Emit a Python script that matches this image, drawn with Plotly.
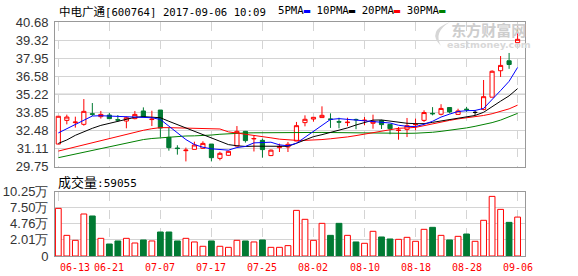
import plotly.graph_objects as go

# ---------------- data ----------------
STOCK = "中电广通"
CODE = "600764"
STAMP = "2017-09-06 10:09"
LAST_VOL = 59055

DATE_LABELS = ["06-13", "06-21", "07-07", "07-17", "07-25", "08-02", "08-10", "08-18", "08-28", "09-06"]
DATE_IDX = [0, 6, 12, 18, 24, 30, 36, 42, 48, 54]

OPEN = [31.46, 33.25, 33.08, 32.95, 33.75, 33.53, 33.65, 33.30, 33.20, 33.38,
        33.96, 33.31, 34.03, 31.97, 31.16, 30.96, 31.06, 31.14, 31.46, 30.38,
        30.61, 31.31, 32.42, 31.85, 31.74, 30.59, 31.19, 31.24, 31.69, 33.08,
        33.35, 33.46, 33.35, 33.15, 33.08, 33.32, 33.24, 33.03, 33.23, 32.95,
        32.49, 32.57, 32.92, 33.25, 33.78, 33.71, 34.22, 33.70, 34.10, 33.85,
        34.08, 35.00, 37.00, 37.75, 39.12]
HIGH = [33.58, 33.68, 33.53, 34.86, 34.56, 33.96, 33.81, 33.65, 33.53, 33.96,
        34.23, 33.98, 34.03, 32.72, 31.37, 31.19, 31.64, 31.67, 31.46, 30.88,
        30.95, 32.82, 32.45, 32.10, 31.87, 31.05, 31.49, 31.62, 33.13, 33.63,
        33.48, 34.31, 33.78, 33.45, 33.45, 33.38, 33.50, 33.68, 33.30, 32.95,
        32.75, 33.43, 33.38, 34.01, 34.25, 34.47, 34.24, 34.13, 34.27, 34.03,
        36.30, 37.03, 38.11, 38.34, 40.33]
LOW = [31.44, 32.95, 32.70, 32.85, 33.58, 33.38, 33.38, 33.15, 32.65, 33.33,
       33.53, 32.82, 31.97, 30.96, 30.66, 30.15, 31.06, 31.09, 30.15, 30.23,
       30.58, 31.31, 31.57, 30.90, 30.43, 30.55, 30.86, 30.86, 31.69, 32.80,
       33.15, 33.46, 32.68, 32.65, 32.81, 32.58, 32.88, 32.62, 32.60, 32.20,
       31.79, 31.99, 32.50, 33.13, 33.63, 33.63, 33.78, 33.70, 33.89, 33.66,
       34.01, 35.00, 36.53, 37.14, 39.12]
CLOSE = [33.56, 33.50, 33.12, 33.93, 33.71, 33.70, 33.38, 33.27, 33.45, 33.70,
         33.53, 33.34, 32.67, 31.19, 31.12, 31.00, 31.39, 31.51, 30.43, 30.76,
         30.91, 32.42, 31.72, 31.88, 31.04, 31.00, 31.29, 31.44, 32.85, 33.33,
         33.48, 33.63, 33.33, 33.12, 33.11, 33.30, 33.26, 33.18, 32.93, 32.62,
         32.51, 32.85, 32.94, 33.84, 33.75, 34.15, 33.89, 33.96, 34.06, 33.85,
         35.04, 36.96, 37.40, 37.47, 39.37]
# volume in 万手
VOLUME = [7.40, 2.79, 1.94, 6.44, 6.10, 2.28, 1.31, 1.83, 2.28, 1.48,
          2.00, 1.83, 3.36, 3.36, 1.83, 2.28, 1.66, 0.92, 1.83, 0.92,
          0.74, 1.94, 1.83, 1.66, 2.00, 0.74, 0.74, 1.03, 7.06, 5.53,
          1.94, 4.84, 2.79, 4.84, 2.79, 1.66, 1.43, 3.48, 2.51, 2.17,
          2.11, 2.45, 1.77, 3.82, 4.16, 2.79, 2.00, 2.62, 3.02, 1.77,
          5.36, 9.45, 7.23, 5.01, 5.91]
MA5 = [32.30, 32.62, 32.95, 33.28, 33.58, 33.60, 33.58, 33.58, 33.52, 33.50,
       33.48, 33.45, 33.32, 32.80, 32.30, 31.80, 31.42, 31.22, 31.10, 31.03,
       31.00, 31.20, 31.28, 31.55, 31.60, 31.60, 31.40, 31.33, 31.52, 31.98,
       32.45, 32.92, 33.32, 33.38, 33.33, 33.30, 33.24, 33.20, 33.15, 33.05,
       32.88, 32.80, 32.78, 32.95, 33.18, 33.50, 33.72, 33.92, 33.98, 34.00,
       34.15, 34.80, 35.50, 36.20, 37.25]
MA10 = [31.51, 31.77, 32.12, 32.40, 32.65, 32.87, 33.03, 33.20, 33.35, 33.48,
        33.53, 33.51, 33.45, 33.18, 32.92, 32.66, 32.43, 32.18, 31.93, 31.66,
        31.42, 31.33, 31.28, 31.30, 31.30, 31.30, 31.29, 31.29, 31.52, 31.78,
        32.02, 32.17, 32.35, 32.48, 32.68, 32.90, 33.10, 33.27, 33.28, 33.20,
        33.10, 33.03, 33.00, 33.00, 33.10, 33.20, 33.30, 33.40, 33.50, 33.62,
        33.86, 34.25, 34.70, 35.10, 35.65]
MA20 = [30.93, 31.09, 31.25, 31.41, 31.57, 31.73, 31.89, 32.05, 32.20, 32.35,
        32.50, 32.62, 32.70, 32.70, 32.68, 32.68, 32.68, 32.67, 32.64, 32.60,
        32.38, 32.30, 32.22, 32.13, 32.03, 31.93, 31.83, 31.76, 31.74, 31.74,
        31.76, 31.80, 31.86, 31.92, 32.00, 32.10, 32.20, 32.32, 32.45, 32.55,
        32.65, 32.68, 32.72, 32.85, 33.00, 33.12, 33.25, 33.36, 33.45, 33.50,
        33.62, 33.75, 33.93, 34.12, 34.40]
MA30 = [30.43, 30.57, 30.71, 30.84, 30.98, 31.11, 31.25, 31.39, 31.52, 31.66,
        31.80, 31.88, 31.94, 32.00, 32.05, 32.07, 32.08, 32.10, 32.14, 32.20,
        32.25, 32.28, 32.30, 32.31, 32.32, 32.32, 32.32, 32.32, 32.33, 32.33,
        32.34, 32.34, 32.33, 32.32, 32.30, 32.29, 32.28, 32.28, 32.27, 32.27,
        32.27, 32.27, 32.28, 32.30, 32.35, 32.42, 32.50, 32.58, 32.68, 32.80,
        32.92, 33.08, 33.27, 33.50, 33.78]

PRICE_TICKS = [29.75, 31.11, 32.48, 33.85, 35.22, 36.58, 37.95, 39.32, 40.68]
VOL_TICKS = [2.01, 4.76, 7.50, 10.25]

# ---------------- style ----------------
W, H = 578, 276
ML, MR, MT, MB = 55, 53, 22, 20
PW, PH = W - ML - MR, H - MT - MB
RED = "#FF0000"
GREEN = "#007A33"
GRID = "#D4D4D4"
BORDER = "#999999"
MONO = "DejaVu Sans Mono"
CJK = "Noto Sans CJK SC"


def px(x):
    return (x - ML) / PW


def py(y):
    return (H - MB - y) / PH


n = len(CLOSE)
idx = list(range(n))
VOL_FLOOR = VOL_TICKS[0] - (VOL_TICKS[1] - VOL_TICKS[0])

norm = [i for i in idx if CLOSE[i] != OPEN[i]]
flat = [i for i in idx if CLOSE[i] == OPEN[i]]

fig = go.Figure()

fig.add_trace(go.Candlestick(
    x=norm, open=[OPEN[i] for i in norm], high=[HIGH[i] for i in norm],
    low=[LOW[i] for i in norm], close=[CLOSE[i] for i in norm],
    increasing=dict(line=dict(color=RED, width=1), fillcolor="white"),
    decreasing=dict(line=dict(color=GREEN, width=1), fillcolor=GREEN),
    whiskerwidth=0, xaxis="x", yaxis="y", showlegend=False, hoverinfo="skip"))
if flat:
    fig.add_trace(go.Candlestick(
        x=flat, open=[OPEN[i] for i in flat], high=[HIGH[i] for i in flat],
        low=[LOW[i] for i in flat], close=[CLOSE[i] for i in flat],
        increasing=dict(line=dict(color="#000000", width=1), fillcolor="#000000"),
        decreasing=dict(line=dict(color="#000000", width=1), fillcolor="#000000"),
        whiskerwidth=0, xaxis="x", yaxis="y", showlegend=False, hoverinfo="skip"))

for ma, col in [(MA30, "#008000"), (MA20, RED), (MA10, "#000000"), (MA5, "#0000FF")]:
    fig.add_trace(go.Scatter(x=idx, y=ma, mode="lines", line=dict(color=col, width=1),
                             xaxis="x", yaxis="y", showlegend=False, hoverinfo="skip"))

up = [CLOSE[i] >= OPEN[i] for i in idx]
fig.add_trace(go.Bar(
    x=idx, y=[v - VOL_FLOOR for v in VOLUME], base=VOL_FLOOR,
    marker=dict(color=["white" if u else GREEN for u in up],
                line=dict(color=[RED if u else GREEN for u in up], width=1)),
    xaxis="x2", yaxis="y2", showlegend=False, hoverinfo="skip"))

xr = [-0.39, n - 0.13]
axis_common = dict(showline=True, mirror=True, linecolor=BORDER, linewidth=1,
                   zeroline=False, ticks="", fixedrange=True, automargin=False)

fig.update_layout(
    template="none",
    width=W, height=H,
    margin=dict(l=ML, r=MR, t=MT, b=MB, pad=0, autoexpand=False),
    paper_bgcolor="white", plot_bgcolor="white",
    bargap=0.32, boxgap=0.3,
    xaxis=dict(domain=[0, 1], anchor="y", range=xr, tickvals=DATE_IDX,
               showticklabels=False, showgrid=True, gridcolor=GRID, griddash="dash",
               rangeslider=dict(visible=False), **axis_common),
    yaxis=dict(domain=[py(166.7), 1], anchor="x", range=[PRICE_TICKS[0], PRICE_TICKS[-1]],
               tickvals=PRICE_TICKS, ticktext=[f"{v:.2f}" for v in PRICE_TICKS],
               showgrid=True, gridcolor=GRID, ticklabelstandoff=3,
               tickfont=dict(family="Liberation Sans", size=13, color="#333333"),
               **axis_common),
    xaxis2=dict(domain=[0, 1], anchor="y2", range=xr, tickvals=DATE_IDX,
                showticklabels=False, showgrid=True, gridcolor=GRID, griddash="dash",
                **axis_common),
    yaxis2=dict(domain=[0, py(191.7)], anchor="x2", range=[VOL_FLOOR, VOL_TICKS[-1]],
                tickvals=[VOL_FLOOR] + VOL_TICKS,
                ticktext=["0"] + [f"{v:.2f}万" for v in VOL_TICKS],
                showgrid=True, gridcolor=GRID, ticklabelstandoff=3,
                tickfont=dict(family="Liberation Sans", size=13, color="#333333"),
                **axis_common),
)

# darker middle line of the price panel
mid = PRICE_TICKS[len(PRICE_TICKS) // 2]
fig.add_shape(type="line", xref="x", yref="y", x0=xr[0], x1=xr[1], y0=mid, y1=mid,
              line=dict(color=BORDER, width=1), layer="below")

# watermark logo swoosh (decoration)
def P(x, y):
    return f"{px(x):.5f},{py(y):.5f}"

fig.add_shape(type="path", xref="paper", yref="paper",
              path=f"M {P(450, 22)} Q {P(426, 31)} {P(441, 46)} Q {P(433, 32)} {P(450, 22)} Z",
              fillcolor="#D6D6D6", line=dict(width=0), layer="above")

ann = []
ann.append(dict(x=px(57), y=py(11), xref="paper", yref="paper", xanchor="left", yanchor="middle",
                showarrow=False,
                text=f"<span style='font-family:{CJK};font-size:11.5px'>{STOCK}</span>[{CODE}] {STAMP}",
                font=dict(family=MONO, size=10.7, color="#000000")))
legend_txt = ""
for name, col in [("5PMA", "#0000FF"), ("10PMA", "#000000"), ("20PMA", RED), ("30PMA", "#008000")]:
    legend_txt += f"{name}<span style='color:{col}'>▬</span> "
ann.append(dict(x=px(276), y=py(11), xref="paper", yref="paper", xanchor="left", yanchor="middle",
                showarrow=False, text=legend_txt.strip(),
                font=dict(family=MONO, size=10.7, color="#000000")))
ann.append(dict(x=px(56), y=py(181), xref="paper", yref="paper", xanchor="left", yanchor="middle",
                showarrow=False,
                text=f"<span style='font-family:{CJK};font-size:13px'>成交量</span>:{LAST_VOL}",
                font=dict(family=MONO, size=11, color="#000000")))
# watermark text (one block)
ann.append(dict(x=px(489), y=py(34), xref="paper", yref="paper", xanchor="center", yanchor="middle",
                showarrow=False,
                text=(f"<span style='font-family:{CJK};font-size:15px;color:#CDCDCD'><b>东方财富网</b></span>"
                      "<br><b>eastmoney.com</b>"),
                font=dict(family="DejaVu Sans", size=9.5, color="#D8D8D8")))
for k, (lab, i) in enumerate(zip(DATE_LABELS, DATE_IDX)):
    ann.append(dict(x=i, y=py(267), xref="x2", yref="paper",
                    xanchor="left" if k == 0 else "center", yanchor="middle",
                    showarrow=False, text=lab,
                    font=dict(family=MONO, size=10, color=RED)))
fig.update_layout(annotations=ann)

fig.write_html("out.html")
